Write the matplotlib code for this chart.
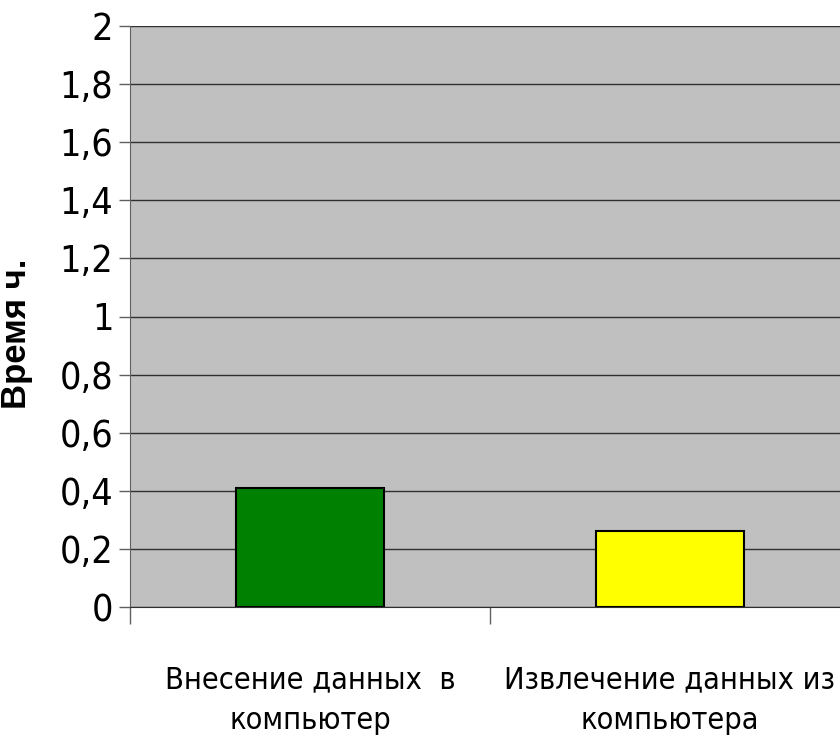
import matplotlib
matplotlib.use("Agg")
import matplotlib.pyplot as plt
from matplotlib import font_manager
import numpy as np

# data
categories = ["Внесение данных  в\nкомпьютер", "Извлечение данных из\nкомпьютера"]
values = [0.41, 0.26]
bar_colors = ["#008000", "#FFFF00"]
yticks = [0, 0.2, 0.4, 0.6, 0.8, 1.0, 1.2, 1.4, 1.6, 1.8, 2.0]
ytick_labels = ["0", "0,2", "0,4", "0,6", "0,8", "1", "1,2", "1,4", "1,6", "1,8", "2"]

narrow = font_manager.FontProperties(family="DejaVu Sans", stretch="condensed")

fig = plt.figure(figsize=(8.4, 7.42), dpi=100)
ax = fig.add_axes([130 / 840, 135 / 742, 720 / 840, 581 / 742])
ax.set_facecolor("#C0C0C0")

x = np.arange(len(categories))
ax.bar(x, values, width=0.41, color=bar_colors, edgecolor="black", linewidth=1.5, zorder=3)

ax.set_xlim(-0.5, 1.5)
ax.set_ylim(0, 2)

ax.set_yticks(yticks)
ax.set_yticklabels(ytick_labels, fontproperties=narrow, fontsize=27)
ax.yaxis.grid(True, color="#303030", linewidth=1)
ax.set_axisbelow(True)

# category labels at centres, tick marks at category boundaries
ax.set_xticks(x)
ax.set_xticklabels(categories, fontproperties=narrow, fontsize=22, linespacing=1.5)
ax.tick_params(axis="x", length=0, pad=42)
ax.set_xticks([-0.5, 0.5, 1.5], minor=True)
ax.tick_params(axis="x", which="minor", length=12, color="#606060", width=1)
ax.tick_params(axis="y", length=8, color="#606060", width=1, pad=4)

for s in ["top", "right"]:
    ax.spines[s].set_visible(False)
ax.spines["left"].set_color("#606060")
ax.spines["bottom"].set_color("#303030")

ax.set_ylabel("Время ч.", fontsize=25, fontweight="bold", family="Liberation Sans")
ax.yaxis.set_label_coords(-0.135, 0.47)

fig.savefig("out.png", dpi=100)
